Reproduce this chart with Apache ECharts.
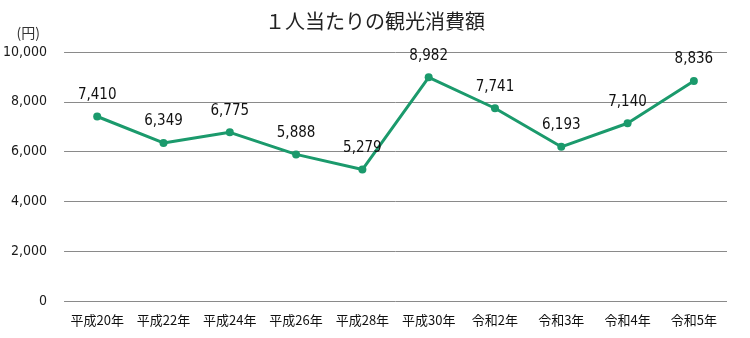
<!DOCTYPE html>
<html><head><meta charset="utf-8">
<script src="https://cdn.jsdelivr.net/npm/echarts@6/dist/echarts.min.js"></script>
<style>html,body{margin:0;padding:0;background:#fff}#c{width:750px;height:338px}</style>
</head><body><div id="c"></div>
<script>
const categories = ['平成20年','平成22年','平成24年','平成26年','平成28年','平成30年','令和2年','令和3年','令和4年','令和5年'];
const values = [7410, 6349, 6775, 5888, 5279, 8982, 7741, 6193, 7140, 8836];
const chart = echarts.init(document.getElementById('c'));
const numFont = '"DejaVu Sans Condensed","Liberation Sans Narrow",sans-serif';
chart.setOption({
  animation: false,
  title: { text: '１人当たりの観光消費額', left: 'center', top: 6,
    textStyle: { fontFamily: '"Noto Sans CJK JP"', fontSize: 20, fontWeight: 'normal', color: '#222' } },
  grid: { left: 64, right: 23, top: 52, bottom: 37 },
  xAxis: { type: 'category', data: categories, boundaryGap: true,
    axisLine: { show: false }, axisTick: { show: false },
    axisLabel: { color: '#111', fontSize: 13, fontFamily: '"Noto Sans CJK JP"', margin: 13, interval: 0 } },
  yAxis: { type: 'value', min: 0, max: 10000, interval: 2000, name: '(円)',
    nameLocation: 'end', nameGap: 12, nameTextStyle: { color: '#333', fontSize: 14, fontFamily: '"Noto Sans CJK JP"', align: 'right', padding: [0, 24, 0, 0] },
    axisLine: { show: false }, axisTick: { show: false },
    splitLine: { lineStyle: { color: '#8a8a8a', width: 1 } },
    axisLabel: { color: '#1a1a1a', fontSize: 14, fontFamily: numFont, margin: 17,
      formatter: v => v.toLocaleString('en-US') } },
  series: [{ type: 'line', data: values, symbol: 'circle', symbolSize: 8,
    lineStyle: { color: '#1b9a6c', width: 3 }, itemStyle: { color: '#1b9a6c' },
    label: { show: true, position: 'top', distance: 10, color: '#111', fontSize: 15, fontFamily: numFont,
      formatter: p => p.value.toLocaleString('en-US') } }]
});
</script></body></html>
